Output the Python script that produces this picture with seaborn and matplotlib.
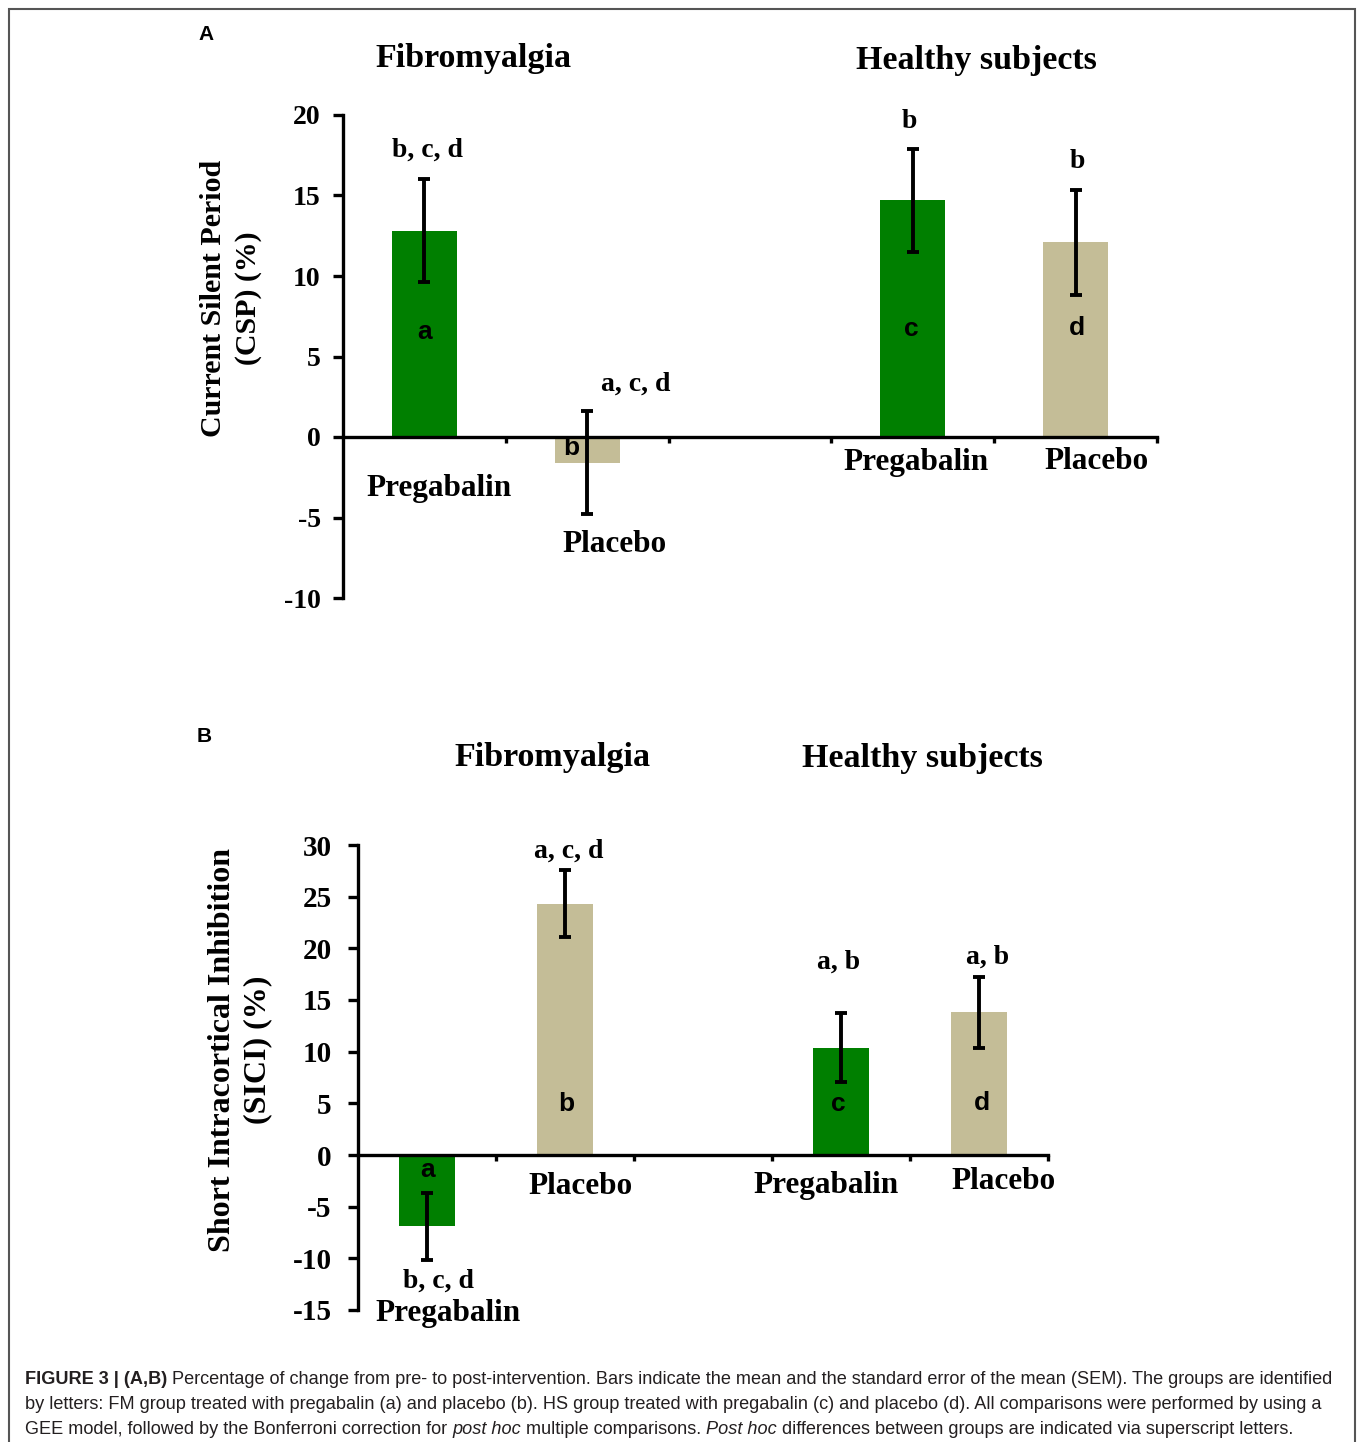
import matplotlib
matplotlib.use("Agg")
import numpy as np
import pandas as pd
import matplotlib.pyplot as plt
import seaborn as sns
from matplotlib.patches import Rectangle

# dados
groups = ["FM Pregabalin", "FM Placebo", "HS Pregabalin", "HS Placebo"]
treatments = ["Pregabalin", "Placebo", "Pregabalin", "Placebo"]
positions = [0, 1, 3, 4]

csp_mean = [12.8, -1.6, 14.7, 12.1]
csp_sem = [3.2, 3.2, 3.2, 3.25]
csp_letters = ["b, c, d", "a, c, d", "b", "b"]

sici_mean = [-6.9, 24.3, 10.4, 13.8]
sici_sem = [3.25, 3.25, 3.3, 3.4]
sici_letters = ["b, c, d", "a, c, d", "a, b", "a, b"]

inner_letters = ["a", "b", "c", "d"]

palette = {"Pregabalin": "#007F00", "Placebo": "#C4BD97"}

sns.set_style("ticks", {"axes.edgecolor": "black", "text.color": "black",
                        "xtick.color": "black", "ytick.color": "black"})
plt.rcParams["font.family"] = ["Liberation Serif", "DejaVu Serif"]
plt.rcParams["axes.unicode_minus"] = False

W, H = 1358, 1442
fig = plt.figure(figsize=(W / 100, H / 100), dpi=100)

serif = ["Liberation Serif", "DejaVu Serif"]
sans = ["Liberation Sans", "DejaVu Sans"]


def px_axes(x0, x1, y_top, y_bot):
    return fig.add_axes([x0 / W, 1 - y_bot / H, (x1 - x0) / W, (y_bot - y_top) / H])


def desenhar_painel(ax, means, sems, ylim, yticks, tick_size, pad):
    df = pd.DataFrame({"pos": positions, "valor": means, "trat": treatments})
    sns.barplot(data=df, x="pos", y="valor", hue="trat", palette=palette,
                native_scale=True, dodge=False, width=0.4, legend=False,
                saturation=1, edgecolor="none", ax=ax)
    ax.errorbar(positions, means, yerr=sems, fmt="none", ecolor="black",
                elinewidth=2.8, capsize=4, capthick=2.8, zorder=5)
    ax.set_xlim(-0.5, 4.5)
    ax.set_ylim(*ylim)
    ax.set_yticks(yticks)
    ax.set_yticklabels([str(t) for t in yticks], fontsize=tick_size,
                       fontweight="bold", family=serif)
    ax.set_xticks([0.5, 1.5, 2.5, 3.5, 4.5])
    ax.set_xticklabels([])
    ax.set_xlabel("")
    ax.set_ylabel("")
    for s in ["top", "right"]:
        ax.spines[s].set_visible(False)
    ax.spines["bottom"].set_position(("data", 0))
    ax.spines["bottom"].set_linewidth(2.4)
    ax.spines["left"].set_linewidth(2.4)
    ax.tick_params(axis="y", direction="out", length=7, width=2.4, pad=pad)
    ax.tick_params(axis="x", direction="out", length=4, width=2.4)
    ax.set_facecolor("none")


def txt(ax, x, y, s, size, family=serif):
    ax.text(x, y, s, ha="center", va="center", fontsize=size,
            fontweight="bold", family=family, clip_on=False)


# Painel A
axA = px_axes(343, 1157, 115, 598)
desenhar_painel(axA, csp_mean, csp_sem, (-10, 20), [-10, -5, 0, 5, 10, 15, 20], 20, 9)
for (x, y), s in zip([(0.02, 17.8), (1.30, 3.3), (2.98, 19.6), (4.01, 17.1)], csp_letters):
    txt(axA, x, y, s, 20)
for (x, y), s in zip([(0.0, 6.5), (0.90, -0.7), (2.99, 6.7), (4.01, 6.8)], inner_letters):
    txt(axA, x, y, s, 19, sans)
for (x, y), s in zip([(0.09, -3.2), (1.17, -6.7), (3.02, -1.6), (4.13, -1.5)], treatments):
    txt(axA, x, y, s, 22.5)
txt(axA, 0.30, 23.5, "Fibromyalgia", 24.5)
txt(axA, 3.39, 23.4, "Healthy subjects", 24.5)
fig.text(206 / W, 1 - 35 / H, "A", ha="center", va="center", fontsize=15,
         fontweight="bold", family=sans)
fig.text(231 / W, 1 - 298 / H, "Current Silent Period\n(CSP) (%)", rotation=90,
         ha="center", va="center", fontsize=21.5, fontweight="bold", family=serif,
         multialignment="center", linespacing=1.4)

# Painel B
axB = px_axes(358, 1048, 845, 1310)
desenhar_painel(axB, sici_mean, sici_sem, (-15, 30), [-15, -10, -5, 0, 5, 10, 15, 20, 25, 30], 21, 12)
for (x, y), s in zip([(0.08, -12.2), (1.03, 29.4), (2.98, 18.7), (4.06, 19.1)], sici_letters):
    txt(axB, x, y, s, 20)
for (x, y), s in zip([(0.007, -1.45), (1.01, 4.9), (2.98, 4.9), (4.02, 5.0)], inner_letters):
    txt(axB, x, y, s, 19, sans)
for (x, y), s in zip([(0.15, -15.3), (1.11, -3.0), (2.89, -3.0), (4.18, -2.6)], treatments):
    txt(axB, x, y, s, 22.5)
txt(axB, 0.91, 38.5, "Fibromyalgia", 24.5)
txt(axB, 3.59, 38.4, "Healthy subjects", 24.5)
fig.text(204 / W, 1 - 736 / H, "B", ha="center", va="center", fontsize=15,
         fontweight="bold", family=sans)
fig.text(240 / W, 1 - 1050 / H, "Short Intracortical Inhibition\n(SICI) (%)", rotation=90,
         ha="center", va="center", fontsize=23, fontweight="bold", family=serif,
         multialignment="center", linespacing=1.3)

# moldura
fig.patches.append(Rectangle((9 / W, -0.01), (1355 - 9) / W, 1 - 9 / H + 0.01,
                             transform=fig.transFigure, fill=False,
                             edgecolor="#555555", linewidth=1.5))

# legenda da figura
cap_font = ["Liberation Sans Narrow", "Liberation Sans", "DejaVu Sans"]
cap_size = 13.1
linhas = [
    [("FIGURE 3 | (A,B)", "bold", "normal"),
     (" Percentage of change from pre- to post-intervention. Bars indicate the mean and the standard error of the mean (SEM). The groups are identified", "normal", "normal")],
    [("by letters: FM group treated with pregabalin (a) and placebo (b). HS group treated with pregabalin (c) and placebo (d). All comparisons were performed by using a", "normal", "normal")],
    [("GEE model, followed by the Bonferroni correction for ", "normal", "normal"),
     ("post hoc", "normal", "italic"),
     (" multiple comparisons. ", "normal", "normal"),
     ("Post hoc", "normal", "italic"),
     (" differences between groups are indicated via superscript letters.", "normal", "normal")],
]
renderer = fig.canvas.get_renderer()
for ypx, runs in zip([1384, 1409, 1434], linhas):
    x = 25
    for s, w, st in runs:
        t = fig.text(x / W, 1 - ypx / H, s, ha="left", va="baseline", fontsize=cap_size,
                     fontweight=w, fontstyle=st, family=cap_font, color="#231F20")
        x += t.get_window_extent(renderer).width

fig.savefig("out.png", dpi=100)
